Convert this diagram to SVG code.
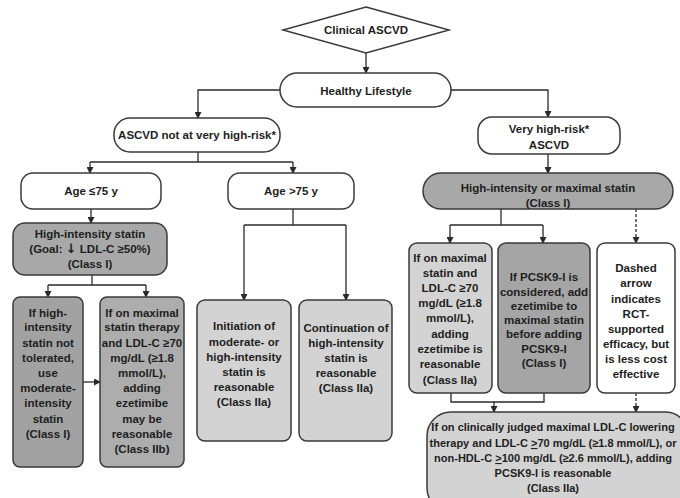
<svg xmlns="http://www.w3.org/2000/svg" width="680" height="498" viewBox="0 0 680 498">
<style>
.b{stroke:#3a3a3a;stroke-width:1.5}
.w{fill:#ffffff}
.d{fill:#a8a8a8}
.l{fill:#d3d3d3}
text{font-family:"Liberation Sans",Arial,sans-serif;font-weight:bold;font-size:11.5px;fill:#1e1e1e;text-anchor:middle}
.s text{font-size:11px}
.c line,.c path{stroke:#2a2a2a;stroke-width:1.3;fill:none}
.dash{stroke-dasharray:3,2}
</style>
<defs>
<marker id="ah" markerWidth="7" markerHeight="7" refX="6" refY="3.5" orient="auto" markerUnits="userSpaceOnUse">
<path d="M0,0 L7,3.5 L0,7 Z" fill="#2a2a2a"/>
</marker>
</defs>
<rect width="680" height="498" fill="#ffffff"/>
<g class="c" id="connectors">
<line x1="366" y1="53" x2="366" y2="73" marker-end="url(#ah)"/>
<path d="M280,90 H198 V118" marker-end="url(#ah)"/>
<path d="M451,90 H548 V117" marker-end="url(#ah)"/>
<line x1="198" y1="152" x2="198" y2="162"/>
<line x1="90" y1="162" x2="293" y2="162"/>
<line x1="90" y1="162" x2="90" y2="173" marker-end="url(#ah)"/>
<line x1="293" y1="162" x2="293" y2="173" marker-end="url(#ah)"/>
<line x1="91" y1="209" x2="91" y2="223" marker-end="url(#ah)"/>
<line x1="92" y1="275" x2="92" y2="285"/>
<line x1="48" y1="285" x2="146" y2="285"/>
<line x1="48" y1="285" x2="48" y2="297" marker-end="url(#ah)"/>
<line x1="146" y1="285" x2="146" y2="297" marker-end="url(#ah)"/>
<line x1="83" y1="382" x2="100" y2="382" marker-end="url(#ah)"/>
<line x1="293" y1="209" x2="293" y2="225"/>
<line x1="244" y1="225" x2="346" y2="225"/>
<line x1="244" y1="225" x2="244" y2="300" marker-end="url(#ah)"/>
<line x1="346" y1="225" x2="346" y2="300" marker-end="url(#ah)"/>
<line x1="548" y1="154" x2="548" y2="173" marker-end="url(#ah)"/>
<line x1="501" y1="209" x2="501" y2="225"/>
<line x1="450" y1="225" x2="543" y2="225"/>
<line x1="450" y1="225" x2="450" y2="243" marker-end="url(#ah)"/>
<line x1="543" y1="225" x2="543" y2="243" marker-end="url(#ah)"/>
<line class="dash" x1="636" y1="209" x2="636" y2="243" marker-end="url(#ah)"/>
<path d="M451,393 V402 H544 V393"/>
<line x1="494" y1="402" x2="494" y2="412" marker-end="url(#ah)"/>
<line class="dash" x1="636" y1="393" x2="636" y2="412" marker-end="url(#ah)"/>
</g>
<g id="n-clinical">
<polygon class="b w" points="366,7 449,30 366,53 283,30"/>
<text x="366" y="34" font-size="12.5">Clinical ASCVD</text>
</g>
<g id="n-lifestyle">
<rect class="b w" x="280" y="73" width="171" height="34" rx="17"/>
<text x="366" y="95">Healthy Lifestyle</text>
</g>
<g id="n-notvhr">
<rect class="b w" x="114" y="118" width="166" height="34" rx="16"/>
<text x="197" y="139">ASCVD not at very high-risk*</text>
</g>
<g id="n-vhr">
<rect class="b w" x="478" y="117" width="142" height="37" rx="14"/>
<text x="549" y="133">Very high-risk*</text>
<text x="549" y="149">ASCVD</text>
</g>
<g id="n-age75">
<rect class="b w" x="21" y="173" width="140" height="36" rx="12"/>
<text x="91" y="195">Age ≤75 y</text>
</g>
<g id="n-agegt75">
<rect class="b w" x="228" y="173" width="126" height="36" rx="12"/>
<text x="291" y="195">Age &gt;75 y</text>
</g>
<g id="n-his">
<rect class="b d" x="13" y="223" width="154" height="52" rx="12"/>
<text x="90" y="238">High-intensity statin</text>
<text x="90" y="253">(Goal: <tspan font-family="DejaVu Sans,sans-serif" font-size="13">↓</tspan> LDL-C ≥50%)</text>
<text x="90" y="268">(Class I)</text>
</g>
<g id="n-nottol">
<rect class="b" fill="#a2a2a2" x="13" y="297" width="70" height="170" rx="7"/>
<text x="48" y="317">If high-</text>
<text x="48" y="331">intensity</text>
<text x="48" y="347">statin not</text>
<text x="48" y="362">tolerated,</text>
<text x="48" y="377">use</text>
<text x="48" y="392">moderate-</text>
<text x="48" y="407">intensity</text>
<text x="48" y="423">statin</text>
<text x="48" y="438">(Class I)</text>
</g>
<g id="n-ezeIIb">
<rect class="b" fill="#adadad" x="100" y="297" width="84" height="170" rx="7"/>
<text x="142" y="317">If on maximal</text>
<text x="142" y="331">statin therapy</text>
<text x="142" y="347">and LDL-C ≥70</text>
<text x="142" y="362">mg/dL (≥1.8</text>
<text x="142" y="377">mmol/L),</text>
<text x="142" y="392">adding</text>
<text x="142" y="407">ezetimibe</text>
<text x="142" y="423">may be</text>
<text x="142" y="438">reasonable</text>
<text x="142" y="453">(Class IIb)</text>
</g>
<g id="n-init">
<rect class="b l" x="197" y="300" width="94" height="141" rx="8"/>
<text x="244" y="330">Initiation of</text>
<text x="244" y="346">moderate- or</text>
<text x="244" y="361">high-intensity</text>
<text x="244" y="376">statin is</text>
<text x="244" y="391">reasonable</text>
<text x="244" y="406">(Class IIa)</text>
</g>
<g id="n-cont">
<rect class="b l" x="299" y="300" width="93" height="141" rx="8"/>
<text x="346" y="332">Continuation of</text>
<text x="346" y="347">high-intensity</text>
<text x="346" y="362">statin is</text>
<text x="346" y="377">reasonable</text>
<text x="346" y="392">(Class IIa)</text>
</g>
<g id="n-hims">
<rect class="b d" x="423" y="173" width="250" height="36" rx="18"/>
<text x="548" y="192">High-intensity or maximal statin</text>
<text x="548" y="207">(Class I)</text>
</g>
<g id="n-ezeIIa">
<rect class="b l" x="409" y="243" width="83" height="150" rx="8"/>
<text x="450" y="262">If on maximal</text>
<text x="450" y="277">statin and</text>
<text x="450" y="292">LDL-C ≥70</text>
<text x="450" y="307">mg/dL (≥1.8</text>
<text x="450" y="322">mmol/L),</text>
<text x="450" y="338">adding</text>
<text x="450" y="353">ezetimibe is</text>
<text x="450" y="368">reasonable</text>
<text x="450" y="384">(Class IIa)</text>
</g>
<g id="n-pcsk">
<rect class="b" fill="#a5a5a5" x="498" y="243" width="92" height="150" rx="8"/>
<text x="544" y="281">If PCSK9-I is</text>
<text x="544" y="296">considered, add</text>
<text x="544" y="310">ezetimibe to</text>
<text x="544" y="324">maximal statin</text>
<text x="544" y="338">before adding</text>
<text x="544" y="353">PCSK9-I</text>
<text x="544" y="367">(Class I)</text>
</g>
<g id="n-dashed">
<rect class="b w" x="597" y="243" width="78" height="150" rx="8"/>
<text x="636" y="272">Dashed</text>
<text x="636" y="287">arrow</text>
<text x="636" y="303">indicates</text>
<text x="636" y="318">RCT-</text>
<text x="636" y="333">supported</text>
<text x="636" y="348">efficacy, but</text>
<text x="636" y="363">is less cost</text>
<text x="636" y="378">effective</text>
</g>
<g id="n-pcskIIa" class="s">
<rect class="b l" x="427" y="412" width="262" height="100" rx="24"/>
<text x="553" y="431">If on clinically judged maximal LDL-C lowering</text>
<text x="553" y="447">therapy and LDL-C <tspan text-decoration="underline">&gt;</tspan>70 mg/dL (≥1.8 mmol/L), or</text>
<text x="553" y="462">non-HDL-C <tspan text-decoration="underline">&gt;</tspan>100 mg/dL (≥2.6 mmol/L), adding</text>
<text x="553" y="477">PCSK9-I is reasonable</text>
<text x="553" y="492">(Class IIa)</text>
</g>
</svg>
